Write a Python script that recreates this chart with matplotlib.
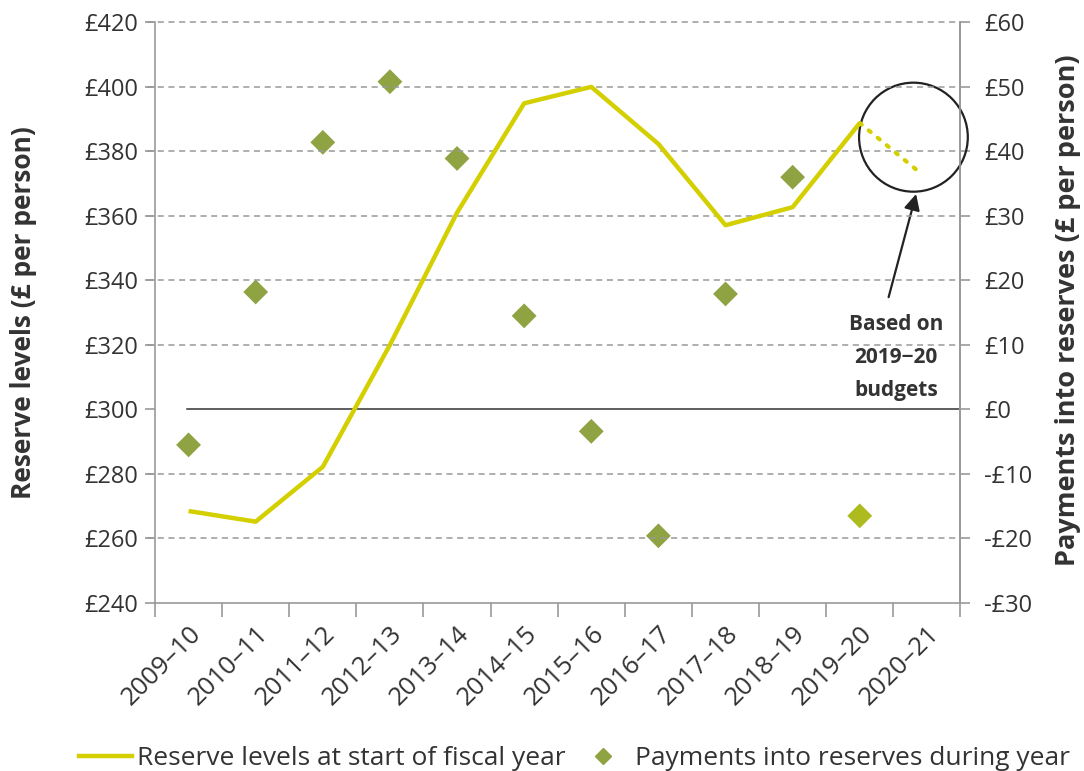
import matplotlib.pyplot as plt
from matplotlib.lines import Line2D
from matplotlib.patches import Ellipse

plt.rcParams['font.family'] = ['Open Sans', 'DejaVu Sans']

years = ['2009–10', '2010–11', '2011–12', '2012–13', '2013–14', '2014–15',
         '2015–16', '2016–17', '2017–18', '2018–19', '2019–20', '2020–21']
reserves = [268.5, 265.2, 282.2, 320.0, 361.0, 394.9, 400.0, 382.3, 357.1, 362.7, 388.8]
reserve_proj = 373.0  # 2020-21, based on 2019-20 budgets
payments = [-5.5, 18.2, 41.4, 50.8, 38.9, 14.5, -3.4, -19.6, 17.9, 36.0, -16.5]

line_col = '#D4CF00'
dia_col = '#8FA342'
dia_last = '#AEBB1E'
grey = '#999999'
txt = '#333333'

fig = plt.figure(figsize=(10.84, 7.71), dpi=100)
ax = fig.add_axes([0.143, 0.218, 0.743, 0.753])
ax2 = ax.twinx()

x = list(range(len(years)))

# reserves line (left axis)
ax.plot(x[:len(reserves)], reserves, color=line_col, lw=3.2, zorder=5, solid_capstyle='butt')
ax.plot([x[len(reserves) - 1], x[-1] - 0.08], [reserves[-1], reserve_proj], color=line_col,
        lw=3, ls=(0, (0.6, 2.2)), dash_capstyle='round', zorder=5)

ax.set_ylim(240, 420)
ax.set_yticks(range(240, 421, 20))
ax.set_yticklabels(['£%d' % v for v in range(240, 421, 20)])
ax.set_xlim(-0.5, len(years) - 0.5)
for v in range(260, 421, 20):
    if v != 300:
        ax.axhline(v, color=grey, lw=1.1, ls=(0, (4, 3)), zorder=1, xmin=-0.01, clip_on=False)

ax.set_xticks([i - 0.5 for i in range(len(years) + 1)], minor=False)
ax.set_xticklabels([])
ax.set_xticks(x, minor=True)
ax.set_xticklabels(years, minor=True, rotation=45, ha='right', rotation_mode='anchor',
                   fontsize=18.5, color=txt)
ax.tick_params(axis='x', which='major', length=10, color=grey, width=1.2)
ax.tick_params(axis='x', which='minor', length=0, pad=13)
ax.tick_params(axis='y', length=7, color=grey, width=1.2, labelsize=17, labelcolor=txt, pad=5)

for s in ['top']:
    ax.spines[s].set_visible(False)
    ax2.spines[s].set_visible(False)
for s in ['left', 'bottom', 'right']:
    ax.spines[s].set_color(grey)
    ax.spines[s].set_linewidth(1.2)
ax2.spines['right'].set_color(grey)
ax2.spines['right'].set_linewidth(1.2)
ax2.spines['left'].set_visible(False)
ax2.spines['bottom'].set_visible(False)

# payments diamonds (right axis)
cols = [dia_col] * (len(payments) - 1) + [dia_last]
ax2.scatter(x[:len(payments)], payments, marker='D', s=160, c=cols, edgecolors='none', zorder=4)
ax2.axhline(0, color='#333333', lw=1.1, xmin=0.04, zorder=2)
ax2.set_ylim(-30, 60)
ax2.set_yticks(range(-30, 61, 10))
ax2.set_yticklabels([('£%d' % v) if v >= 0 else ('-£%d' % -v) for v in range(-30, 61, 10)])
ax2.tick_params(axis='y', length=7, color=grey, width=1.2, labelsize=17, labelcolor=txt, pad=10)

ax.set_zorder(ax2.get_zorder() + 1)
ax.patch.set_visible(False)

# axis titles
fig.text(24 / 1084, 0.595, 'Reserve levels (£ per person)', rotation=90, ha='center', va='center',
         fontsize=19, fontweight='bold', color=txt)
fig.text(1068 / 1084, 0.598, 'Payments into reserves (£ per person)', rotation=90, ha='center',
         va='center', fontsize=19.5, fontweight='bold', color=txt)

# annotation
circ = Ellipse((10.8, 42.2), width=1.62, height=16.9, fill=False, ec='#222222', lw=1.6,
               zorder=6, clip_on=False)
ax2.add_patch(circ)
ax2.annotate('', xy=(10.84, 33.4), xytext=(10.43, 17.4),
             arrowprops=dict(arrowstyle='-|>', color='#222222', lw=1.6, mutation_scale=24,
                             shrinkA=0, shrinkB=0))
ax2.text(10.54, 8.1, 'Based on\n2019−20\nbudgets', ha='center', va='center', fontsize=15,
         fontweight='bold', color=txt, linespacing=1.75)

# legend
h1 = Line2D([], [], color=line_col, lw=3.2)
h2 = Line2D([], [], color=dia_col, marker='D', ls='none', markersize=8)
fig.legend([h1, h2], ['Reserve levels at start of fiscal year', 'Payments into reserves during year'],
           loc='lower center', bbox_to_anchor=(0.53, -0.031), ncol=2, frameon=False,
           fontsize=19, handlelength=2.0, handletextpad=0.2, columnspacing=0.4,
           labelcolor=txt)

fig.savefig('out.png', dpi=100)
